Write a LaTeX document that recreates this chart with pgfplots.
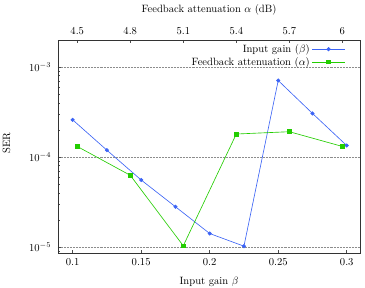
\documentclass[border=0pt]{standalone}
\usepackage{pgfplots}
\pgfplotsset{compat=1.18}
\definecolor{bl}{RGB}{60,100,245}
\definecolor{gr}{RGB}{35,205,0}
\begin{document}
\begin{tikzpicture}
\begin{axis}[name=main,
  scale only axis, width=285pt, height=201pt,
  ymode=log, ymin=8.57e-6, ymax=2.0e-3,
  axis line style={black!80, line width=0.8pt},
  tick style={black!70, line width=0.5pt},
  major tick length=3pt, minor tick length=2pt,
  xmin=0.0893, xmax=0.3097,
  xtick={0.1,0.15,0.2,0.25,0.3},
  xtick pos=bottom, ytick pos=left,
  xticklabel style={/pgf/number format/fixed, yshift=-2pt},
  yticklabel style={xshift=-3pt},
  ytick={1e-5,1e-4,1e-3},
  minor ytick={9e-6,2e-5,3e-5,4e-5,5e-5,6e-5,7e-5,8e-5,9e-5,2e-4,3e-4,4e-4,5e-4,6e-4,7e-4,8e-4,9e-4},
  ymajorgrids, major grid style={densely dotted, black!45, line width=0.4pt},
  xlabel={Input gain $\beta$}, ylabel={SER},
  xlabel style={at={(axis description cs:0.5,-0.136)}, anchor=center},
  ylabel style={at={(axis description cs:-0.17,0.516)}, anchor=center, rotate=0},
]
\addplot[bl, line width=0.6pt, mark=*, mark size=1.6pt] coordinates {
(0.1,2.59e-4) (0.125,1.19e-4) (0.15,5.55e-5) (0.175,2.80e-5) (0.2,1.41e-5)
(0.225,1.02e-5) (0.25,7.08e-4) (0.275,3.05e-4) (0.3,1.34e-4)};
\end{axis}
\begin{axis}[
  scale only axis, width=285pt, height=201pt,
  ymode=log, ymin=8.57e-6, ymax=2.0e-3,
  axis line style={black!80, line width=0.8pt},
  tick style={black!70, line width=0.5pt},
  major tick length=3pt, minor tick length=2pt,
  xmin=4.391, xmax=6.100,
  axis x line*=top, axis y line=none,
  xtick={4.5,4.8,5.1,5.4,5.7,6},
  xticklabel style={yshift=2pt},
  xlabel={Feedback attenuation $\alpha$ (dB)},
  xlabel style={at={(axis description cs:0.5,1.141)}, anchor=center},
  legend style={draw=none, fill=none, at={(axis description cs:0.952,0.99)}, anchor=north east, row sep=-1pt, inner sep=0pt},
  legend plot pos=right, legend cell align=right,
  legend image code/.code={
    \draw[#1] (0pt,0pt) -- (31pt,0pt);
    \draw[#1, only marks] plot coordinates {(15.5pt,0pt)};
  },
]
\addlegendimage{bl, line width=0.6pt, mark=*, mark size=1.6pt}
\addlegendentry{Input gain ($\beta$)}
\addplot[gr, line width=0.6pt, mark=square*, mark size=1.8pt] coordinates {
(4.5,1.31e-4) (4.8,6.26e-5) (5.1,1.03e-5) (5.4,1.80e-4) (5.7,1.91e-4) (6.0,1.31e-4)};
\addlegendentry{Feedback attenuation ($\alpha$)}
\end{axis}
\pgfresetboundingbox
\path[use as bounding box] (main.south west) ++(-54.7pt,-33pt) rectangle ++(344.4pt,271.7pt);
\end{tikzpicture}
\end{document}
